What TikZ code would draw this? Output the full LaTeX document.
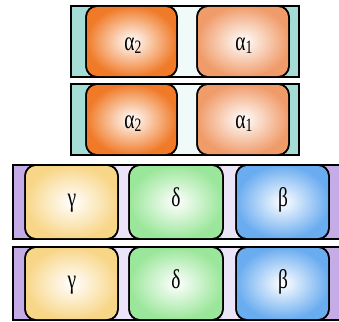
\documentclass[tikz,border=0pt]{standalone}
\usepackage{fontspec}
\setmainfont{Liberation Serif}
\definecolor{tealbar}{HTML}{A6DCD6}
\definecolor{tealgap}{HTML}{F0FAF9}
\definecolor{purbar}{HTML}{C6ACE6}
\definecolor{purgap}{HTML}{ECE4F8}
\definecolor{orgA}{HTML}{F07A28}
\definecolor{orgB}{HTML}{F09C6A}
\definecolor{yel}{HTML}{F8D688}
\definecolor{grn}{HTML}{9AE69A}
\definecolor{blu}{HTML}{6AACF0}
\pgfdeclarehorizontalshading{tealgapsh}{100bp}{color(0bp)=(tealbar); color(25bp)=(tealbar); color(34bp)=(tealgap); color(66bp)=(tealgap); color(75bp)=(tealbar); color(100bp)=(tealbar)}
\pgfdeclarehorizontalshading{purgapsh}{100bp}{color(0bp)=(purbar); color(25bp)=(purbar); color(36bp)=(purgap); color(64bp)=(purgap); color(75bp)=(purbar); color(100bp)=(purbar)}
\newcommand{\gk}[1]{\scalebox{0.72}[1]{#1}}
\tikzset{
  barbox/.style={draw=black, line width=1.5pt},
  sub/.style={draw=black, line width=1.5pt, rounded corners=11pt},
  lbl/.style={font=\fontsize{27}{31}\selectfont, inner sep=0pt, anchor=base}
}
\begin{document}
\begin{tikzpicture}[x=1pt,y=-1pt]
\useasboundingbox (0,0) rectangle (339,321);
% top bars
\foreach \t/\b/\n in {6/77/1,84/155/2}{
  \fill[tealbar] (71,\t) rectangle (299,\b);
  \shade[shading=tealgapsh] (170,\t) rectangle (204,\b);
  \draw[barbox] (71,\t) rectangle (299,\b);
  \shade[sub, inner color=white, outer color=orgA] (86,\t) rectangle (177,\b);
  \shade[sub, inner color=white, outer color=orgB] (197,\t) rectangle (289,\b);
  \draw[sub] (86,\t) rectangle (177,\b);
  \draw[sub] (197,\t) rectangle (289,\b);
  \node[lbl] (a2\n) at (133,\t+44) {\gk{α\textsubscript{2}}};
  \node[lbl] (a1\n) at (244,\t+44) {\gk{α\textsubscript{1}}};
}
% bottom bars
\foreach \t/\b/\n in {165/239/1,247/320/2}{
  \fill[purbar] (13,\t) rectangle (345,\b);
  \shade[shading=purgapsh] (112,\t) rectangle (135,\b);
  \shade[shading=purgapsh] (217,\t) rectangle (242,\b);
  \draw[barbox] (13,\t) rectangle (345,\b);
  \shade[sub, inner color=white, outer color=yel] (25,\t) rectangle (118,\b);
  \shade[sub, inner color=white, outer color=grn] (129,\t) rectangle (223,\b);
  \shade[sub, inner color=white, outer color=blu] (236,\t) rectangle (329,\b);
  \draw[sub] (25,\t) rectangle (118,\b);
  \draw[sub] (129,\t) rectangle (223,\b);
  \draw[sub] (236,\t) rectangle (329,\b);
  \node[lbl] (g\n) at (72,\t+41) {\gk{γ}};
  \node[lbl] (d\n) at (176,\t+41) {\gk{δ}};
  \node[lbl] (bt\n) at (283,\t+41) {\gk{β}};
}
\end{tikzpicture}
\end{document}
